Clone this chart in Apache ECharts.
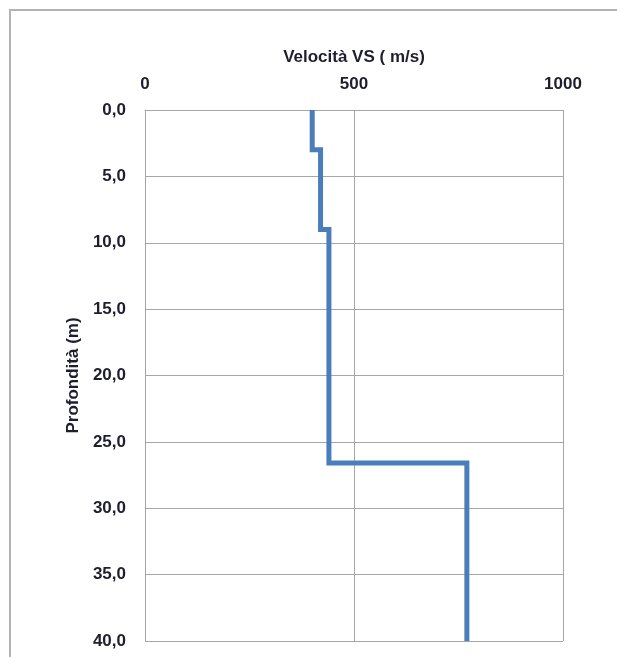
<!DOCTYPE html>
<html>
<head>
<meta charset="utf-8">
<script src="https://cdn.jsdelivr.net/npm/echarts@6/dist/echarts.min.js"></script>
<style>html,body{margin:0;padding:0;background:#fff}#c{width:617px;height:657px}</style>
</head>
<body>
<div id="c"></div>
<script>
// Layer data: shear-wave velocity (m/s) per layer and layer top depth (m)
const layerVelocity = [400, 420, 440, 770];
const layerTop = [0, 3, 9, 26.6];
const maxDepth = 40;
const xTicks = [0, 500, 1000];
const depthTicks = [0, 5, 10, 15, 20, 25, 30, 35, 40];

// Build step profile from layer arrays
const profile = [];
for (let i = 0; i < layerVelocity.length; i++) {
  const bottom = i + 1 < layerTop.length ? layerTop[i + 1] : maxDepth;
  profile.push([layerVelocity[i], layerTop[i]]);
  profile.push([layerVelocity[i], bottom]);
}

const gridColor = '#a6a6a6';
const textColor = '#1e1e2e';
const font = 'Liberation Sans';
const fs = 17;

const chart = echarts.init(document.getElementById('c'));
chart.setOption({
  animation: false,
  graphic: [{
    type: 'rect',
    shape: { x: 10, y: 10, width: 700, height: 700 },
    style: { fill: 'none', stroke: '#b3b3b3', lineWidth: 2 },
    z: -1
  }],
  grid: { left: 145, right: 54, top: 110, bottom: 16 },
  xAxis: {
    type: 'value',
    position: 'top',
    min: xTicks[0], max: xTicks[xTicks.length - 1], interval: 500,
    name: 'Velocità VS ( m/s)',
    nameLocation: 'middle',
    nameGap: 44,
    nameTextStyle: { color: textColor, fontFamily: font, fontWeight: 'bold', fontSize: fs },
    axisLine: { show: true, lineStyle: { color: gridColor, width: 1 } },
    axisTick: { show: false },
    axisLabel: { color: textColor, fontFamily: font, fontWeight: 'bold', fontSize: fs, margin: 17,
      formatter: v => String(v) },
    splitLine: { show: true, lineStyle: { color: gridColor, width: 1 } }
  },
  yAxis: {
    type: 'value',
    inverse: true,
    min: depthTicks[0], max: depthTicks[depthTicks.length - 1], interval: 5,
    name: 'Profondità (m)',
    nameLocation: 'middle',
    nameGap: 59,
    nameRotate: 90,
    nameTextStyle: { color: textColor, fontFamily: font, fontWeight: 'bold', fontSize: fs },
    axisLine: { show: true, lineStyle: { color: gridColor, width: 1 } },
    axisTick: { show: false },
    axisLabel: {
      color: textColor, fontFamily: font, fontWeight: 'bold', fontSize: fs, margin: 19,
      formatter: v => v.toFixed(1).replace('.', ',')
    },
    splitLine: { show: true, lineStyle: { color: gridColor, width: 1 } }
  },
  series: [{
    type: 'line',
    data: profile,
    symbol: 'none',
    lineStyle: { color: '#4a7ebb', width: 5, cap: 'butt', join: 'miter' },
    clip: false
  }]
});
</script>
</body>
</html>
